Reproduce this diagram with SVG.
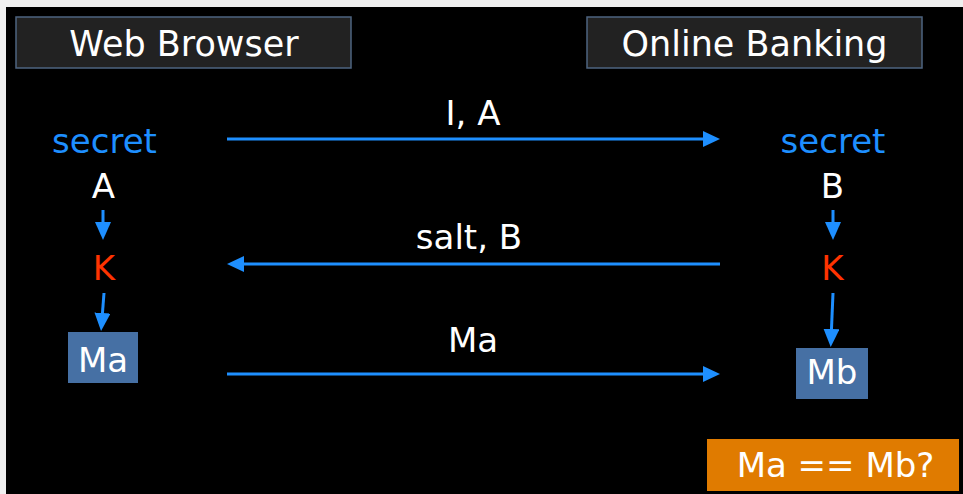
<svg xmlns="http://www.w3.org/2000/svg" width="963" height="494" viewBox="0 0 963 494">
<style>
text{font-family:"DejaVu Sans","Verdana",sans-serif;font-size:34px;text-anchor:middle}
.hd{font-size:35px}
.w{fill:#ffffff}
.b{fill:#1e8fff}
.r{fill:#ff3300}
.hdr{fill:#222222;stroke:#4e6480;stroke-width:1.5}
.box{fill:#4670a4}
.ln{stroke:#1e8fff;stroke-width:3;fill:none}
</style>
<defs>
<marker id="ah" markerUnits="userSpaceOnUse" markerWidth="18" markerHeight="16" refX="2" refY="8" orient="auto">
<path d="M0,0 L17,8 L0,16 z" fill="#1e8fff"/>
</marker>
<marker id="av" markerUnits="userSpaceOnUse" markerWidth="19" markerHeight="16" refX="2" refY="8" orient="auto">
<path d="M0,0 L18,8 L0,16 z" fill="#1e8fff"/>
</marker>
</defs>
<rect x="0" y="0" width="963" height="494" fill="#f0f0f0"/>
<rect x="6" y="7" width="957" height="487" fill="#000000"/>
<g id="web-browser">
<rect class="hdr" x="16" y="17" width="335" height="51"/>
<text class="w hd" x="184" y="56">Web Browser</text>
</g>
<g id="online-banking">
<rect class="hdr" x="587" y="17" width="335" height="51"/>
<text class="w hd" x="754.5" y="56">Online Banking</text>
</g>
<g id="secret-left"><text class="b" x="104.5" y="153">secret</text></g>
<g id="a-left"><text class="w" x="103.5" y="198">A</text></g>
<g id="k-left"><text class="r" x="104" y="280">K</text></g>
<g id="ma-box">
<rect class="box" x="68" y="332" width="70" height="51"/>
<text class="w" x="103" y="372">Ma</text>
</g>
<g id="secret-right"><text class="b" x="833" y="153">secret</text></g>
<g id="b-right"><text class="w" x="832.5" y="198">B</text></g>
<g id="k-right"><text class="r" x="832.5" y="280">K</text></g>
<g id="mb-box">
<rect class="box" x="796" y="348" width="72" height="51"/>
<text class="w" x="832" y="384">Mb</text>
</g>
<g id="compare">
<rect x="707" y="439" width="252" height="52" fill="#e07b00"/>
<text class="w" x="835.5" y="477">Ma == Mb?</text>
</g>
<g id="connectors">
<line class="ln" x1="227" y1="139" x2="705" y2="139" marker-end="url(#ah)"/>
<text class="w" x="473" y="125">I, A</text>
<line class="ln" x1="720" y1="264" x2="242" y2="264" marker-end="url(#ah)"/>
<text class="w" x="469" y="249">salt, B</text>
<line class="ln" x1="227" y1="374" x2="705" y2="374" marker-end="url(#ah)"/>
<text class="w" x="473" y="352">Ma</text>
<line class="ln" x1="103" y1="210" x2="103" y2="224" marker-end="url(#av)"/>
<line class="ln" x1="104" y1="293" x2="102.3" y2="315" marker-end="url(#av)"/>
<line class="ln" x1="833" y1="210" x2="833" y2="224" marker-end="url(#av)"/>
<line class="ln" x1="833" y1="293" x2="831.4" y2="331" marker-end="url(#av)"/>
</g>
</svg>
